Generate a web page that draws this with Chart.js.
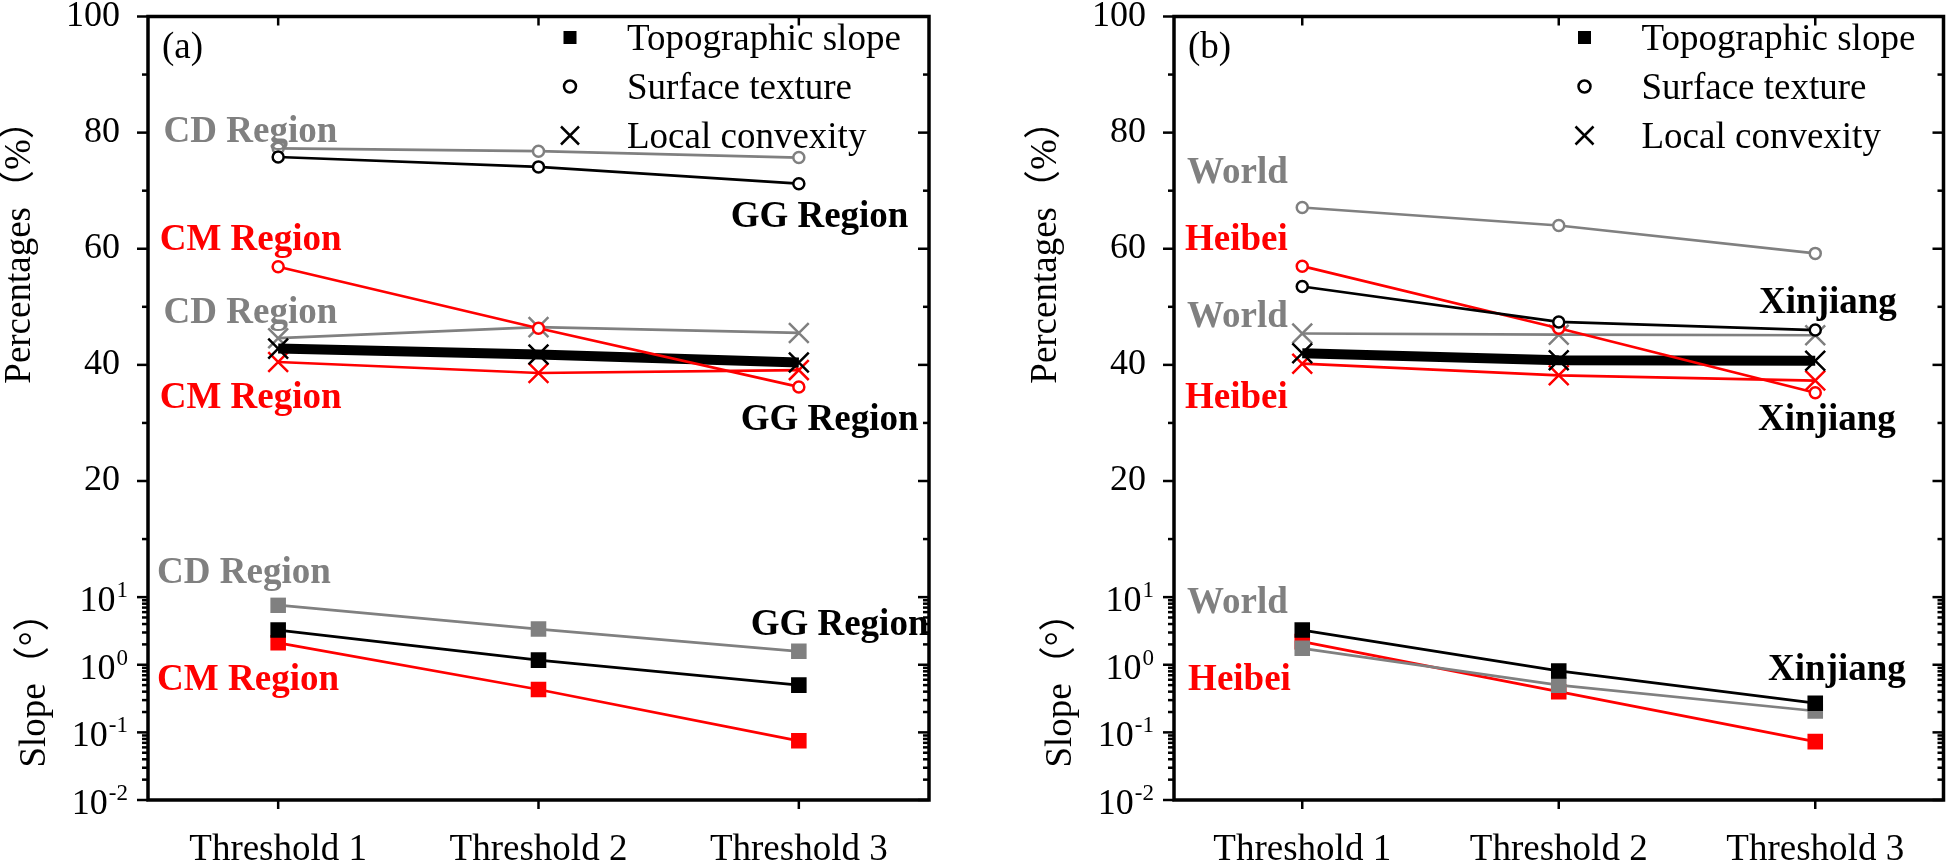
<!DOCTYPE html>
<html>
<head>
<meta charset="utf-8">
<script src="https://cdn.jsdelivr.net/npm/chart.js@4.4.1/dist/chart.umd.min.js"></script>
<style>
  html, body { margin: 0; padding: 0; background: #fff; }
  #wrap { display: flex; width: 1960px; height: 862px; }
  canvas { display: block; }
</style>
</head>
<body>
<div id="wrap">
  <canvas id="panelA" width="980" height="862" style="width:980px;height:862px"></canvas>
  <canvas id="panelB" width="980" height="862" style="width:980px;height:862px"></canvas>
</div>
<script>
const categories = ['Threshold 1', 'Threshold 2', 'Threshold 3'];
const percentTicks = [20, 40, 60, 80, 100];
const slopeExponents = [1, 0, -1, -2];

// (a) CD / GG / CM regions
const slopeCD = [7.6, 3.37, 1.58];
const slopeGG = [3.26, 1.17, 0.50];
const slopeCM = [2.11, 0.43, 0.075];
const textureCD = [77.3, 76.8, 75.7];
const textureGG = [75.8, 74.1, 71.2];
const textureCM = [56.9, 46.3, 36.2];
const convexCD = [44.6, 46.5, 45.5];
const convexGG = [42.8, 41.8, 40.4];
const convexCM = [40.5, 38.6, 39.1];

// (b) World / Xinjiang / Heibei
const slopeWorld = [1.75, 0.50, 0.207];
const slopeXinjiang = [3.26, 0.81, 0.27];
const slopeHeibei = [2.2, 0.40, 0.073];
const textureWorld = [67.1, 64.0, 59.2];
const textureXinjiang = [53.5, 47.4, 46.0];
const textureHeibei = [57.0, 46.3, 35.2];
const convexWorld = [45.4, 45.2, 45.1];
const convexXinjiang = [42.0, 40.8, 40.7];
const convexHeibei = [40.2, 38.2, 37.3];

const GRAY = '#808080', RED = '#ff0000', BLACK = '#000000';
const SERIF = "'Liberation Serif', 'Times New Roman', serif";
const TITLE_FONT = "'Liberation Serif', 'Noto Sans CJK SC', serif";

const legendItems = [
  { label: 'Topographic slope', marker: 'square' },
  { label: 'Surface texture', marker: 'circle' },
  { label: 'Local convexity', marker: 'cross' }
];

// region labels, anchored in data coordinates (category index, axis value)
const labelsA = [
  { text: 'CD Region', color: GRAY, axis: 'y', at: [-0.44, 78.3] },
  { text: 'CM Region', color: RED, axis: 'y', at: [-0.455, 59.7] },
  { text: 'CD Region', color: GRAY, axis: 'y', at: [-0.44, 47.2] },
  { text: 'CM Region', color: RED, axis: 'y', at: [-0.455, 32.5] },
  { text: 'GG Region', color: BLACK, axis: 'y', at: [1.738, 63.7] },
  { text: 'GG Region', color: BLACK, axis: 'y', at: [1.777, 28.7] },
  { text: 'CD Region', color: GRAY, axis: 'y2', at: [-0.465, 16.1] },
  { text: 'CM Region', color: RED, axis: 'y2', at: [-0.465, 0.42] },
  { text: 'GG Region', color: BLACK, axis: 'y2', at: [1.815, 2.75] }
];
const labelsB = [
  { text: 'World', color: GRAY, axis: 'y', at: [-0.449, 71.3] },
  { text: 'Heibei', color: RED, axis: 'y', at: [-0.457, 59.7] },
  { text: 'World', color: GRAY, axis: 'y', at: [-0.449, 46.5] },
  { text: 'Heibei', color: RED, axis: 'y', at: [-0.457, 32.5] },
  { text: 'Xinjiang', color: BLACK, axis: 'y', at: [1.781, 48.9] },
  { text: 'Xinjiang', color: BLACK, axis: 'y', at: [1.777, 28.7] },
  { text: 'World', color: GRAY, axis: 'y2', at: [-0.449, 5.8] },
  { text: 'Heibei', color: RED, axis: 'y2', at: [-0.445, 0.42] },
  { text: 'Xinjiang', color: BLACK, axis: 'y2', at: [1.816, 0.594] }
];

function slopeLine(data, color) {
  return { data, yAxisID: 'y2', borderColor: color, borderWidth: 2.7, tension: 0,
    pointStyle: 'rect', pointRadius: 11, pointBackgroundColor: color,
    pointBorderColor: color, pointBorderWidth: 0 };
}
function textureLine(data, color) {
  return { data, yAxisID: 'y', borderColor: color, borderWidth: 2.7, tension: 0,
    pointStyle: 'circle', pointRadius: 5.5, pointBackgroundColor: '#fff',
    pointBorderColor: color, pointBorderWidth: 2.5 };
}
function convexLine(data, color, width) {
  return { data, yAxisID: 'y', borderColor: color, borderWidth: width, tension: 0,
    pointStyle: 'crossRot', pointRadius: 14, pointBackgroundColor: color,
    pointBorderColor: color, pointBorderWidth: 2.5 };
}

function seg(ctx, x1, y1, x2, y2) {
  ctx.beginPath(); ctx.moveTo(x1, y1); ctx.lineTo(x2, y2); ctx.stroke();
}

const decor = {
  id: 'decor',
  afterDraw(chart, args, opts) {
    const { ctx, chartArea: a, scales: { x, y, y2 } } = chart;
    ctx.save();

    // region labels
    ctx.font = 'bold 37px ' + SERIF;
    ctx.textAlign = 'left';
    ctx.textBaseline = 'alphabetic';
    opts.labels.forEach(l => {
      const sc = l.axis === 'y' ? y : y2;
      ctx.fillStyle = l.color;
      ctx.fillText(l.text, x.getPixelForValue(l.at[0]), sc.getPixelForValue(l.at[1]));
    });

    // panel letter
    ctx.fillStyle = BLACK;
    ctx.font = '37px ' + SERIF;
    ctx.fillText(opts.letter, a.left + 14, a.top + 41);

    // legend
    legendItems.forEach((it, i) => {
      const cy = a.top + 21 + i * 49;
      const mx = a.right - 359;
      ctx.fillStyle = BLACK;
      ctx.strokeStyle = BLACK;
      ctx.lineWidth = 2.5;
      if (it.marker === 'square') {
        ctx.fillRect(mx - 6.5, cy - 6.5, 13, 13);
      } else if (it.marker === 'circle') {
        ctx.beginPath(); ctx.arc(mx, cy, 6, 0, Math.PI * 2);
        ctx.fillStyle = '#fff'; ctx.fill(); ctx.stroke();
      } else {
        seg(ctx, mx - 9, cy - 9, mx + 9, cy + 9);
        seg(ctx, mx - 9, cy + 9, mx + 9, cy - 9);
      }
      ctx.fillStyle = BLACK;
      ctx.font = '37px ' + SERIF;
      ctx.fillText(it.label, a.right - 302, cy + 12);
    });

    // frame
    ctx.strokeStyle = BLACK;
    ctx.lineWidth = 3.5;
    ctx.strokeRect(a.left, a.top, a.right - a.left, a.bottom - a.top);

    // ticks
    ctx.lineWidth = 2.5;
    for (let v = 10; v <= 100; v += 10) {
      const py = y.getPixelForValue(v);
      const len = v % 20 === 0 ? 11 : 6;
      seg(ctx, a.left - len, py, a.left, py);
      seg(ctx, a.right, py, a.right - len, py);
    }
    slopeExponents.forEach(e => {
      const py = y2.getPixelForValue(Math.pow(10, e));
      seg(ctx, a.left - 11, py, a.left, py);
      seg(ctx, a.right, py, a.right - 11, py);
      if (e > -2) {
        for (let m = 2; m <= 9; m++) {
          const pm = y2.getPixelForValue(m * Math.pow(10, e - 1));
          seg(ctx, a.left - 6, pm, a.left, pm);
          seg(ctx, a.right, pm, a.right - 6, pm);
        }
      }
    });
    categories.forEach((c, i) => {
      const px = x.getPixelForValue(i);
      seg(ctx, px, a.bottom, px, a.bottom + 9);
      seg(ctx, px, a.top, px, a.top + 9);
    });

    // log tick labels with superscripts
    ctx.fillStyle = BLACK;
    ctx.textAlign = 'right';
    slopeExponents.forEach(e => {
      const py = y2.getPixelForValue(Math.pow(10, e));
      const right = a.left - 20;
      ctx.font = '23px ' + SERIF;
      const sup = String(e);
      const w = ctx.measureText(sup).width;
      ctx.fillText(sup, right, py);
      ctx.font = '36px ' + SERIF;
      ctx.fillText('10', right - w - 1, py + 14);
    });

    // axis titles
    ctx.font = '37px ' + TITLE_FONT;
    ctx.textAlign = 'center';
    [['Percentages（%）', 118, y.getPixelForValue(61)],
     ['Slope（°）', 103, y2.getPixelForValue(0.574)]].forEach(([t, off, py]) => {
      ctx.save();
      ctx.translate(a.left - off, py);
      ctx.rotate(-Math.PI / 2);
      ctx.fillText(t, 0, 0);
      ctx.restore();
    });

    ctx.restore();
  }
};

function makePanel(id, letter, yWidth, rightPad, sets, labels) {
  return new Chart(document.getElementById(id), {
    type: 'line',
    data: { labels: categories, datasets: sets },
    plugins: [decor],
    options: {
      responsive: false,
      animation: false,
      devicePixelRatio: 1,
      events: [],
      layout: { padding: { left: 0, right: rightPad, top: 16, bottom: 0 } },
      plugins: {
        legend: { display: false },
        tooltip: { enabled: false },
        decor: { letter, labels }
      },
      scales: {
        x: {
          type: 'category', offset: true,
          grid: { display: false }, border: { display: false },
          ticks: { color: BLACK, font: { family: SERIF, size: 37 }, padding: 20, maxRotation: 0, autoSkip: false },
          afterFit: s => { s.height = 62; s.paddingLeft = 0; s.paddingRight = 0; }
        },
        // log layer first in the stack so it ends up at the bottom
        y2: {
          type: 'logarithmic', position: 'left', stack: 'panel', stackWeight: 203,
          min: 0.01, max: 10,
          grid: { display: false }, border: { display: false },
          ticks: { display: false },
          afterFit: s => { s.width = yWidth; s.paddingTop = 0; s.paddingBottom = 0; }
        },
        y: {
          type: 'linear', position: 'left', stack: 'panel', stackWeight: 581,
          min: 0, max: 100,
          grid: { display: false }, border: { display: false },
          ticks: { stepSize: 20, color: BLACK, font: { family: SERIF, size: 36 }, padding: 20,
                   callback: v => percentTicks.includes(v) ? v : '' },
          afterFit: s => { s.width = yWidth; s.paddingTop = 0; s.paddingBottom = 0; }
        }
      }
    }
  });
}

makePanel('panelA', '(a)', 148, 51, [
  slopeLine(slopeGG, BLACK), slopeLine(slopeCD, GRAY), slopeLine(slopeCM, RED),
  textureLine(textureGG, BLACK), textureLine(textureCD, GRAY), textureLine(textureCM, RED),
  convexLine(convexGG, BLACK, 10), convexLine(convexCD, GRAY, 2.7), convexLine(convexCM, RED, 2.7)
], labelsA);

makePanel('panelB', '(b)', 194, 5, [
  slopeLine(slopeXinjiang, BLACK), slopeLine(slopeWorld, GRAY), slopeLine(slopeHeibei, RED),
  textureLine(textureXinjiang, BLACK), textureLine(textureWorld, GRAY), textureLine(textureHeibei, RED),
  convexLine(convexXinjiang, BLACK, 10), convexLine(convexWorld, GRAY, 2.7), convexLine(convexHeibei, RED, 2.7)
], labelsB);
</script>
</body>
</html>
